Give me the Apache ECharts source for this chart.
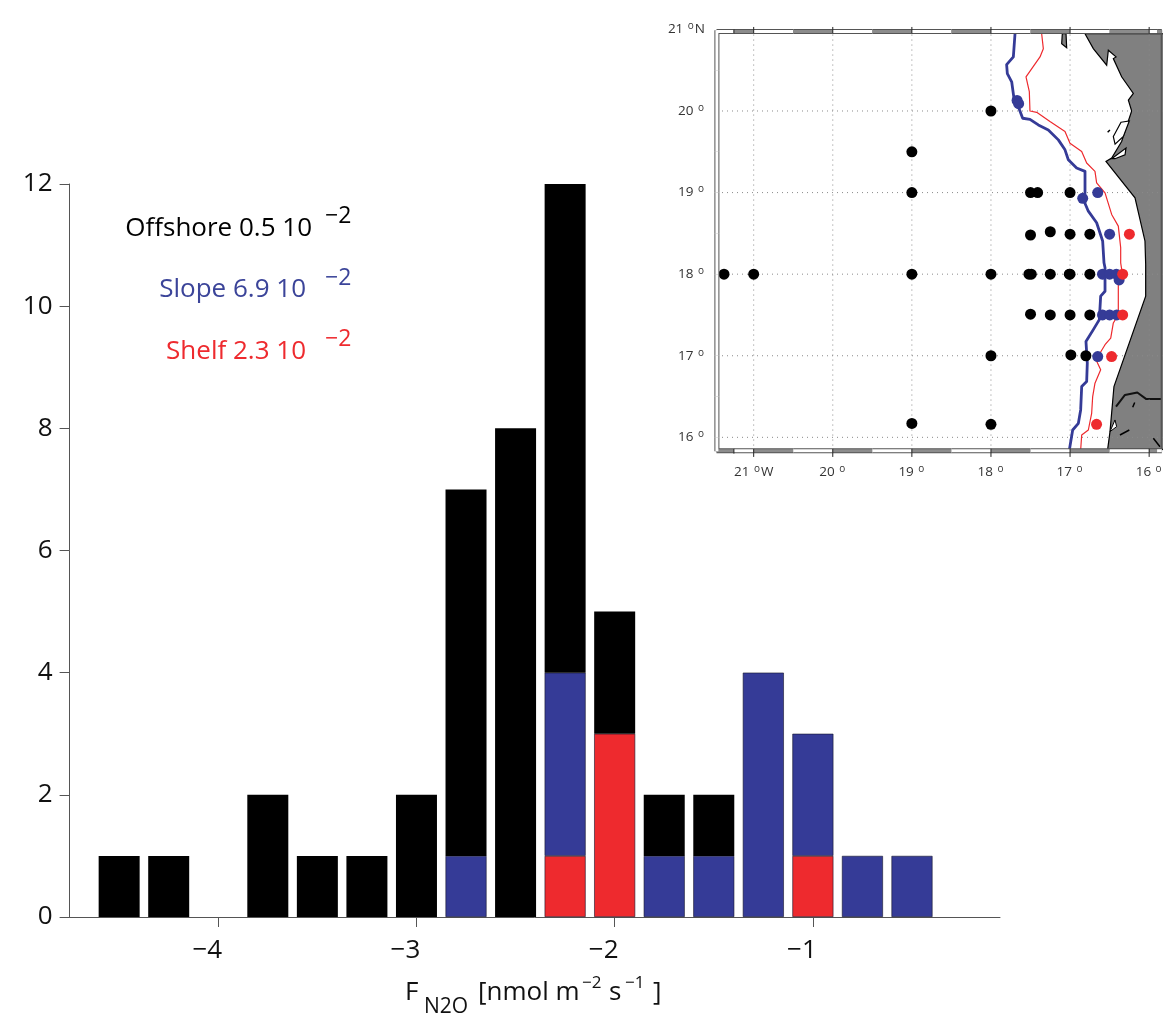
<!DOCTYPE html>
<html><head><meta charset="utf-8">
<style>html,body{margin:0;padding:0;background:#fff}#c{width:1163px;height:1015px}</style>
<script src="https://cdn.jsdelivr.net/npm/echarts@6/dist/echarts.min.js"></script></head>
<body><div id="c"></div>
<script>
// ---- histogram data
const binCentres=[-4.75,-4.5,-4.25,-4,-3.75,-3.5,-3.25,-3,-2.75,-2.5,-2.25,-2,-1.75,-1.5,-1.25,-1,-0.75,-0.5,-0.25];
const shelfCounts=[0,0,0,0,0,0,0,0,0,0,1,3,0,0,0,1,0,0,0];
const slopeCounts=[0,0,0,0,0,0,0,0,1,0,3,0,1,1,4,2,1,1,0];
const offshoreCounts=[0,1,1,0,2,1,1,2,6,8,8,2,1,1,0,0,0,0,0];
const xTicks=[-4,-3,-2,-1];
// ---- map data [lon W, lat N]
const mapLons=[21,20,19,18,17,16];
const mapLats=[21,20,19,18,17,16];
const offshoreStations=[[18,20],[19,19.5],[19,19],[17.5,19],[17.41,19],[17,19],[17.5,18.48],[17.25,18.52],[17,18.49],[16.75,18.49],[21.375,18],[21,18],[19,18],[18,18],[17.52,18],[17.49,18],[17.25,18],[17,18],[17.01,18],[16.75,18],[17.5,17.51],[17.25,17.5],[17,17.5],[16.75,17.5],[18,17],[16.99,17.01],[16.8,17],[19,16.17],[18,16.16]];
const slopeStations=[[17.67,20.13],[17.65,20.09],[16.84,18.93],[16.65,19],[16.5,18.49],[16.59,18],[16.5,18],[16.415,18],[16.38,17.93],[16.59,17.5],[16.5,17.5],[16.41,17.5],[16.65,16.99]];
const shelfStations=[[16.25,18.49],[16.335,18],[16.335,17.5],[16.475,16.99],[16.665,16.16]];
const blueIsobath=[[17.696,20.947],[17.717,20.663],[17.802,20.569],[17.793,20.459],[17.738,20.358],[17.709,20.154],[17.654,20.053],[17.599,19.911],[17.507,19.898],[17.401,19.829],[17.275,19.768],[17.148,19.646],[17.064,19.524],[17.022,19.402],[16.917,19.301],[16.811,19.26],[16.811,18.996],[16.832,18.915],[16.769,18.772],[16.664,18.63],[16.588,18.407],[16.571,18.139],[16.558,18.078],[16.558,17.791],[16.613,17.73],[16.63,17.443],[16.706,17.32],[16.799,17.176],[16.782,16.91],[16.79,16.684],[16.853,16.623],[16.866,16.336],[16.895,16.172],[16.967,16.09],[17.009,15.844]];
const redIsobath=[[17.359,20.947],[17.338,20.764],[17.38,20.663],[17.557,20.419],[17.515,20.236],[17.507,20],[17.422,19.984],[17.254,19.87],[17.064,19.748],[17.001,19.606],[16.853,19.504],[16.79,19.362],[16.685,19.26],[16.664,19.118],[16.558,18.996],[16.474,18.732],[16.39,18.589],[16.36,18.325],[16.36,18.139],[16.347,18.057],[16.39,17.893],[16.39,17.504],[16.453,17.402],[16.486,17.217],[16.558,17.135],[16.672,16.951],[16.613,16.828],[16.685,16.664],[16.714,16.5],[16.727,16.295],[16.769,16.09],[16.853,16.029],[16.866,15.844]];
const land=[[16.811,20.947],[16.706,20.764],[16.537,20.561],[16.516,20.744],[16.419,20.663],[16.453,20.642],[16.348,20.419],[16.2,20.215],[16.263,20.134],[16.221,20],[16.263,19.878],[16.348,19.626],[16.474,19.423],[16.546,19.382],[16.179,18.935],[16.053,18.407],[16.044,18.122],[16.044,17.73],[16.445,16.623],[16.495,16.07],[16.525,15.852],[15.8,15.852],[15.8,20.947]];
const islet=[[17.098,20.947],[17.051,20.947],[17.043,20.776],[17.106,20.825]];
const lagoonA=[[16.356,19.862],[16.251,19.878],[16.326,19.687],[16.431,19.593],[16.453,19.687]];
const lagoonB=[[16.474,19.415],[16.293,19.545],[16.305,19.463],[16.432,19.415]];
const lagoonC=[[16.495,16.07],[16.432,16.213],[16.411,16.131]];
const river=[[16.419,16.377],[16.306,16.52],[16.15,16.549],[16.04,16.471],[15.85,16.471]];
const dashes=[[[16.525,19.74],[16.496,19.768]],[[16.369,16.029],[16.251,16.09]],[[16.208,16.369],[16.183,16.426]],[[15.947,15.988],[15.863,15.885]]];
const frameLonEdges=[21.47,21.25,21,20.5,20,19.5,19,18.5,18,17.5,17,16.5,16,15.9,15.84];
const frameLatEdges=[20.99,20.5,20,19.5,19,18.5,18,17.5,17,16.5,16,15.83];
// ---- text
const notes=[
 {t:'Offshore 0.5 10',c:'#000',right:312,y:234,sx:325,sy:220},
 {t:'Slope 6.9 10',c:'#3b4499',right:306,y:295,sx:325,sy:282},
 {t:'Shelf 2.3 10',c:'#ee2a2e',right:306,y:357,sx:325,sy:343}];

const FONT='"Open Sans"';
const HIST={left:69.6,top:184,width:930.4,height:733};
const MAP={left:715,top:29,width:448,height:424};
const LON=[15.825,21.489],LAT=[15.808,21.005];

const zipSeries=(arr)=>binCentres.map((x,i)=>arr[i]===0?{value:[0,x],itemStyle:{borderWidth:0}}:[arr[i],x]);
const bar=(name,arr,color,bw)=>({type:'bar',name,stack:'n',xAxisIndex:0,yAxisIndex:0,data:zipSeries(arr),encode:{x:1,y:0},barWidth:41,
  itemStyle:{color,borderColor:'#14142a',borderWidth:bw},silent:true});
const seg=(a,b,color,width,z,dash)=>({type:'line',xAxisIndex:1,yAxisIndex:1,data:[a,b],showSymbol:false,silent:true,clip:false,z,
  lineStyle:{color,width,type:dash||'solid'}});
const poly=(pts,fill,stroke,z,lw)=>({type:'custom',xAxisIndex:1,yAxisIndex:1,z,silent:true,clip:true,data:[[pts[0][0],pts[0][1]]],
  renderItem:(p,api)=>({type:'polygon',shape:{points:pts.map(q=>api.coord(q))},style:{fill,stroke,lineWidth:lw}})});
const path=(pts,color,width,z)=>({type:'line',xAxisIndex:1,yAxisIndex:1,data:pts,showSymbol:false,silent:true,z,lineStyle:{color,width,join:'round'}});
const dots=(pts,color,z)=>({type:'scatter',xAxisIndex:1,yAxisIndex:1,data:pts,symbolSize:11,silent:true,z,itemStyle:{color,opacity:1}});

const series=[bar('Shelf',shelfCounts,'#ee2a2e',0.6),bar('Slope',slopeCounts,'#353b97',0.6),bar('Offshore',offshoreCounts,'#000',0)];
series.push(poly(land,'#808080','#000',2,1.2),poly(islet,'#808080','#000',2,1.2));
series.push(poly(lagoonA,'#fff','#000',3,1.2),poly(lagoonB,'#fff','#000',3,1.2),poly(lagoonC,'#fff','#000',3,1));
series.push(path(river,'#111',2,3));
dashes.forEach(d=>series.push(path(d,'#000',1.5,3)));
// graticule
mapLons.forEach(v=>series.push(seg([v,LAT[0]+.03],[v,LAT[1]-.03],'#8a8a8a',1,4,[1,4])));
mapLats.slice(1).forEach(v=>series.push(seg([LON[0],v],[LON[1],v],'#8a8a8a',1,4,[1,4])));
series.push(path(redIsobath,'#ee2a2e',1.2,5),path(blueIsobath,'#353b97',2.8,5));
series.push(dots(offshoreStations,'#000',6),dots(slopeStations,'#353b97',7),dots(shelfStations,'#ee2a2e',8));
// checkered frame
const T=20.975,B=15.835,L=21.465,R=15.845;
for(let i=0;i<frameLonEdges.length-1;i++){
  const a=frameLonEdges[i],b=frameLonEdges[i+1];
  series.push(seg([a,T],[b,T],'#555',5,9),seg([a,B],[b,B],'#555',5,9));
  series.push(seg([a,T],[b,T],i%2===0?'#fff':'#8c8c8c',3,10),seg([a,B],[b,B],i%2===0?'#8c8c8c':'#fff',3,10));
}
for(let i=0;i<frameLatEdges.length-1;i++){
  const a=frameLatEdges[i],b=frameLatEdges[i+1];
  series.push(seg([L,a],[L,b],'#555',5,9),seg([L,a],[L,b],'#fff',3,10));
}
series.push(seg([R,frameLatEdges[0]],[R,frameLatEdges[frameLatEdges.length-1]],'#555',1.5,9));
mapLons.forEach(v=>{series.push(seg([v,20.95],[v,21.03],'#222',1,12),seg([v,15.86],[v,15.76],'#222',1,12));});
[21.25].forEach(v=>{series.push(seg([v,20.95],[v,21.0],'#222',1,12),seg([v,15.86],[v,15.8],'#222',1,12));});

const graphic=[];
notes.forEach(n=>{
  graphic.push({type:'text',right:1163-n.right,top:n.y-18,style:{text:n.t,fill:n.c,font:'26px '+FONT}});
  graphic.push({type:'text',left:n.sx,top:n.sy-15,style:{text:'\u22122',fill:n.c,font:'23px '+FONT}});
});
graphic.push({type:'text',left:405,top:980,style:{text:'F',fill:'#111',font:'26px '+FONT}});
graphic.push({type:'text',left:424,top:997,style:{text:'N2O',fill:'#111',font:'21px '+FONT}});
graphic.push({type:'text',left:478,top:980,style:{text:'[nmol m',fill:'#111',font:'26px '+FONT}});
graphic.push({type:'text',left:582,top:975,style:{text:'\u22122',fill:'#111',font:'17px '+FONT}});
graphic.push({type:'text',left:609,top:980,style:{text:'s',fill:'#111',font:'26px '+FONT}});
graphic.push({type:'text',left:625,top:975,style:{text:'\u22121',fill:'#111',font:'17px '+FONT}});
graphic.push({type:'text',left:653,top:980,style:{text:']',fill:'#111',font:'26px '+FONT}});

const deg={s:{fontSize:10,color:'#333',fontFamily:FONT,padding:[0,1,6,1]},n:{fontSize:13.5,color:'#333',fontFamily:FONT}};
const chart=echarts.init(document.getElementById('c'),null,{renderer:'canvas'});
chart.setOption({
  animation:false,backgroundColor:'#fff',
  grid:[{...HIST,containLabel:false,outerBoundsMode:'none'},{...MAP,containLabel:false,outerBoundsMode:'none'}],
  xAxis:[
   {type:'value',gridIndex:0,min:-4.75,max:-0.056,splitLine:{show:false},
    axisLine:{onZero:false,lineStyle:{color:'#555',width:1}},
    axisTick:{length:10,lineStyle:{color:'#555'},customValues:xTicks},
    axisLabel:{customValues:xTicks,margin:21,padding:[0,22,0,0],fontSize:26,color:'#111',fontFamily:FONT,
      formatter:v=>'\u2212'+Math.abs(v)}},
   {type:'value',gridIndex:1,inverse:true,min:LON[0],max:LON[1],splitLine:{show:false},
    axisLine:{show:false},axisTick:{show:false},
    axisLabel:{customValues:mapLons,margin:11,rich:deg,
      formatter:v=>v===21?'{n|21 }{s|o}{n|W}':'{n|'+v+' }{s|o}'}}],
  yAxis:[
   {type:'value',gridIndex:0,min:0,max:12,interval:2,splitLine:{show:false},
    axisLine:{show:true,lineStyle:{color:'#555',width:1}},
    axisTick:{show:true,length:10,lineStyle:{color:'#555'}},
    axisLabel:{margin:17,fontSize:26,color:'#111',fontFamily:FONT,padding:[4,0,0,0]}},
   {type:'value',gridIndex:1,min:LAT[0],max:LAT[1],splitLine:{show:false},
    axisLine:{show:false},axisTick:{show:false},
    axisLabel:{customValues:mapLats,margin:10,rich:deg,
      formatter:v=>v===21?'{n|21 }{s|o}{n|N}':'{n|'+v+' }{s|o}'}}],
  series,graphic});
</script></body></html>
